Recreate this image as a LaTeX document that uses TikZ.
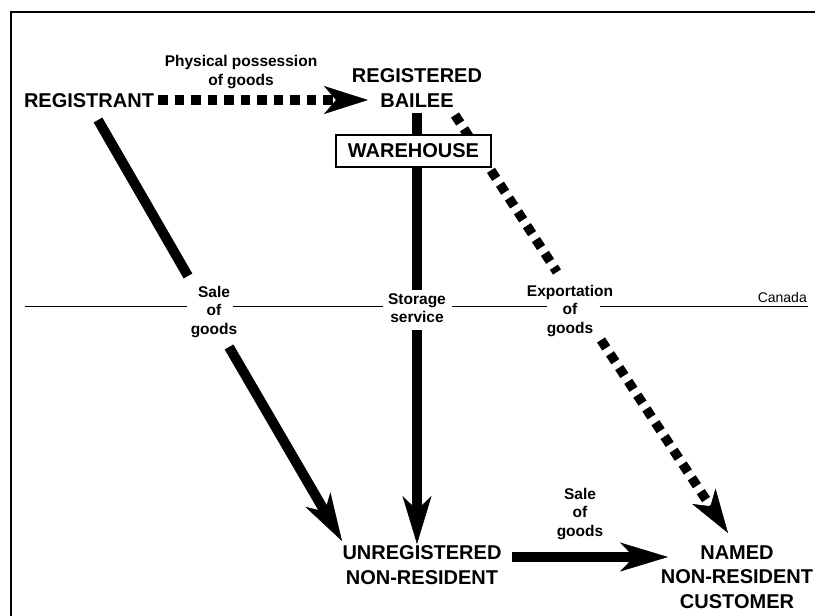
\documentclass[tikz,border=0pt]{standalone}
\usepackage{fontspec}
\setmainfont{Liberation Sans}
\usetikzlibrary{arrows.meta}
\begin{document}
\begin{tikzpicture}[x=1pt,y=-1pt,
  big/.style={font=\fontsize{20}{24.5}\selectfont\bfseries, align=center, inner sep=0pt},
  small/.style={font=\fontsize{15.5}{18.5}\selectfont\bfseries, align=center, inner sep=0pt},
  solidarrow/.style={line width=10pt, -{Stealth[length=48pt, width=29pt, inset=14pt, line width=0.5pt]}},
  solidline/.style={line width=10pt},
  dottedarrow/.style={line width=9.5pt, dash pattern=on 9.5pt off 7pt, -{Stealth[length=44pt, width=28pt, inset=12pt, line width=0.5pt]}},
  dottedline/.style={line width=9.5pt, dash pattern=on 9.5pt off 7pt},
  border/.style={line width=1.5pt},
  frontier/.style={line width=1pt}]
\useasboundingbox (0,0) rectangle (815,616);
% frame
\draw[border] (11,620) -- (11,12) -- (820,12);
% nodes
\node[big] (registrant) at (89,101) {REGISTRANT};
\node[big] (bailee) at (417,88) {REGISTERED\\BAILEE};
\node[small] (physical) at (241,72) {Physical possession\\of goods};
\node[big] (unreg) at (422,565) {UNREGISTERED\\NON-RESIDENT};
\node[big] (named) at (737,577) {NAMED\\NON-RESIDENT\\CUSTOMER};
\node[small] (sale1) at (214,312) {Sale\\of\\goods};
\node[small] (storage) at (417,308) {Storage\\service};
\node[small] (export) at (570,311) {Exportation\\of\\goods};
\node[small] (sale2) at (580,514) {Sale\\of\\goods};
\node[font=\fontsize{14}{16}\selectfont, inner sep=0pt, anchor=base east] (canada) at (807,302) {Canada};
% connector end points
\coordinate (r0) at (158,100);
\coordinate (r1) at (368,100);
\coordinate (a0) at (98,120);
\coordinate (a1) at (188,276);
\coordinate (a2) at (229,347);
\coordinate (a3) at (342,541);
\coordinate (m0) at (417,113);
\coordinate (m1) at (417,290);
\coordinate (m2) at (417,330);
\coordinate (m3) at (417,544);
\coordinate (e0) at (455,115);
\coordinate (e1) at (557,272);
\coordinate (e2) at (601,340);
\coordinate (e3) at (728,533);
\coordinate (b0) at (512,557);
\coordinate (b1) at (668,557);
% border line
\draw[frontier] (25,306) -- (187,306) (233,306) -- (383,306) (452,306) -- (547,306) (600,306) -- (808,306);
% connectors
\draw[dottedarrow] (r0) -- (r1);
\draw[dottedline] (e0) -- (e1);
\draw[dottedarrow] (e2) -- (e3);
\draw[solidline] (a0) -- (a1);
\draw[solidarrow] (a2) -- (a3);
\draw[solidline] (m0) -- (m1);
\draw[solidarrow] (m2) -- (m3);
\draw[solidarrow] (b0) -- (b1);
% warehouse
\node[big, draw, line width=1.5pt, fill=white, minimum width=155pt, minimum height=32pt] (warehouse) at (413.5,151) {WAREHOUSE};
\end{tikzpicture}
\end{document}
